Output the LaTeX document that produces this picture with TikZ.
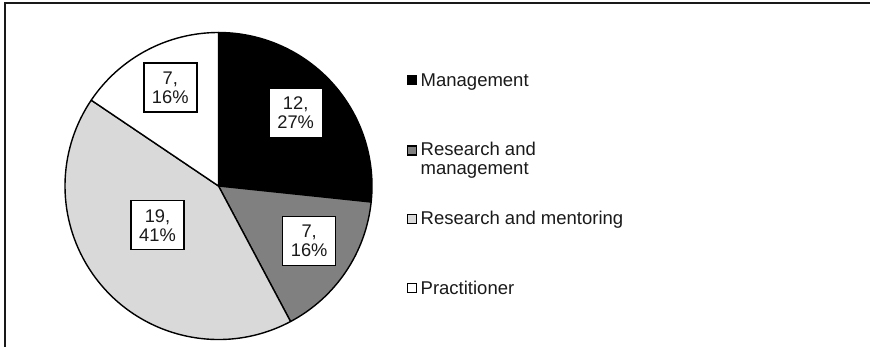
\documentclass[tikz,border=0pt]{standalone}
\usepackage{fontspec}
\setmainfont{Liberation Sans}
\definecolor{midgray}{HTML}{808080}
\definecolor{lightgray}{HTML}{D9D9D9}
\definecolor{textcol}{HTML}{1A1A1A}
\begin{document}
\begin{tikzpicture}[x=1pt,y=1pt,
  slice/.style={draw=black,line width=1.4pt,line join=round},
  valbox/.style={draw=black,fill=white,line width=1.4pt,minimum width=53pt,minimum height=49pt,inner sep=0pt,align=center,font=\fontsize{18.3}{19}\selectfont,text=textcol},
  keybox/.style={draw=black,line width=1.2pt,minimum width=9pt,minimum height=9pt,inner sep=0pt},
  legtext/.style={anchor=base west,inner sep=0pt,align=left,font=\fontsize{18.5}{19}\selectfont,text=textcol},
  frameline/.style={draw=black!90,line width=2pt}]
\useasboundingbox (0,0) rectangle (871,347);
\fill[white] (0,0) rectangle (871,347);
% frame (top and left edges)
\coordinate (fl) at (5,0);
\coordinate (ftl) at (5,344);
\coordinate (ftr) at (870,344);
\draw[frameline] (fl) -- (ftl) -- (ftr);
% pie
\coordinate (c) at (218.5,161);
\def\R{153.5}
\filldraw[slice,fill=black] (c) -- ++(90:\R) arc[start angle=90,end angle=-6,radius=\R] -- cycle;
\filldraw[slice,fill=midgray] (c) -- ++(-6:\R) arc[start angle=-6,end angle=-62,radius=\R] -- cycle;
\filldraw[slice,fill=lightgray] (c) -- ++(-62:\R) arc[start angle=-62,end angle=-214,radius=\R] -- cycle;
\filldraw[slice,fill=white] (c) -- ++(146:\R) arc[start angle=146,end angle=90,radius=\R] -- cycle;
% value labels
\node[valbox] (l1) at (295.7,234.1) {12,\\27\%};
\node[valbox] (l2) at (309.2,106) {7,\\16\%};
\node[valbox] (l3) at (157.5,121.7) {19,\\41\%};
\node[valbox] (l4) at (170.3,259.5) {7,\\16\%};
% legend
\node[keybox,fill=black] (k1) at (411.7,266.7) {};
\node[keybox,fill=midgray] (k2) at (411.7,196.5) {};
\node[keybox,fill=lightgray] (k3) at (411.7,128) {};
\node[keybox,fill=white] (k4) at (411.7,58.7) {};
\node[legtext] (t1) at (420.5,260.3) {Management};
\node[legtext] (t2) at (420.5,172) {Research and\\management};
\node[legtext] (t3) at (420.5,122) {Research and mentoring};
\node[legtext] (t4) at (420.5,52.7) {Practitioner};
\end{tikzpicture}
\end{document}
